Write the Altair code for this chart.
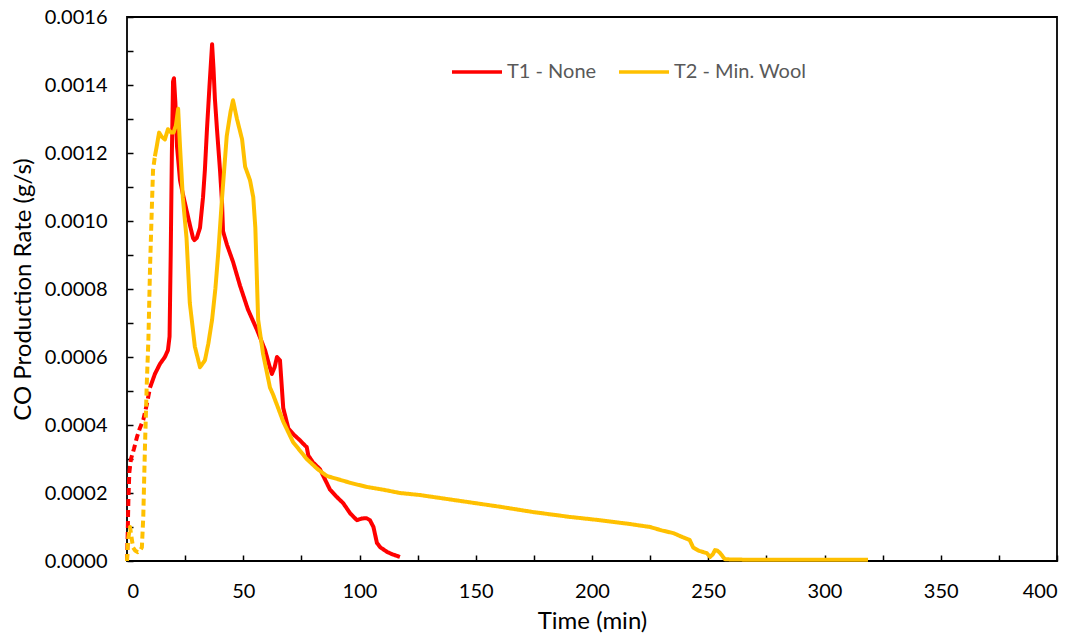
import altair as alt
import pandas as pd

# ---- data ----
t1_dash_time = [0, 0.3, 0.6, 1.0, 1.7, 3.0, 4.3, 5.5, 7.0, 8.5, 9.9]
t1_dash_rate = [0, 0.00008, 0.00018, 0.00026, 0.00030, 0.00033, 0.000365, 0.00039, 0.000415, 0.00046, 0.00051]

t1_time = [9.9, 12, 14.2, 16.3, 17.6, 18.3, 18.8, 19.3, 19.8, 20.2, 20.8, 21.5, 22.8, 24, 25, 27,
           28.4, 29, 30, 31.4, 32.7, 33.5, 34.4, 35.5, 36.6, 37.2, 37.8, 38.7, 40, 40.9, 41.3, 43,
           45.6, 48.6, 52, 55.9, 59.4, 61, 62.3, 63.5, 64.5, 65.8, 66.5, 67.2, 69.4, 72, 74.4,
           76.5, 77.3, 78, 80, 83, 87.3, 90, 93, 96, 98.9, 101, 103, 104.5, 106, 107.5, 109,
           111.8, 114, 117.4]
t1_rate = [0.00051, 0.00055, 0.00058, 0.00060, 0.00062, 0.00066, 0.00090, 0.00120, 0.00141, 0.00142,
           0.00135, 0.00122, 0.00112, 0.00108, 0.00105, 0.00099, 0.00095, 0.000944, 0.00095,
           0.00098, 0.00107, 0.00115, 0.00127, 0.00140, 0.00152, 0.00145, 0.00136, 0.00127,
           0.00115, 0.00105, 0.00097, 0.00093, 0.00088, 0.00081, 0.00074, 0.00068, 0.00062,
           0.00058, 0.00055, 0.00057, 0.00060, 0.00059, 0.00052, 0.00045, 0.00039, 0.00037,
           0.000355, 0.00034, 0.000335, 0.00031, 0.00029, 0.00027, 0.00021, 0.00019, 0.00017,
           0.00014, 0.00012, 0.000125, 0.000126, 0.00012, 0.00010, 0.000053, 0.00004, 0.000027,
           0.00002, 0.000012]

t2_dash_time = [0, 0.4, 1.3, 2.6, 3.6, 4.7, 5.6, 6.4, 7.0, 7.7, 8.5, 9.2, 9.9, 10.6, 11.2, 12.0]
t2_dash_rate = [0, 0.00006, 0.00010, 0.00004, 0.00003, 0.000026, 0.00003, 0.00004, 0.00013,
                0.00033, 0.00052, 0.00065, 0.00086, 0.00102, 0.00115, 0.00119]

t2_time = [12, 12.8, 13.8, 14.9, 16.3, 17.6, 19, 20, 21, 22, 22.8, 24, 25.6, 27, 29.2, 31.4, 33.5,
           35, 36.6, 38, 39.3, 40.9, 42.9, 44.5, 45.6, 47.3, 49.5, 50.8, 52.9, 54.3, 55.2, 56.4,
           58.5, 61.5, 62.8, 65, 67.2, 71.4, 77.3, 82, 86, 91, 96, 103, 110, 117.4, 126, 146,
           160, 174.7, 190, 203.4, 215, 225, 230, 235, 239, 242, 243.5, 246, 249.4, 250.8, 252,
           252.9, 254, 255, 257.2, 265, 280, 300, 318.7]
t2_rate = [0.00119, 0.00122, 0.00126, 0.001248, 0.00124, 0.00127, 0.00126, 0.00126, 0.00128,
           0.00133, 0.00122, 0.00107, 0.00095, 0.00076, 0.00063, 0.00057, 0.00059, 0.00064,
           0.00071, 0.00080, 0.00091, 0.00107, 0.00125, 0.00132, 0.001355, 0.00130, 0.00124,
           0.00116, 0.00112, 0.00107, 0.00098, 0.00071, 0.00061, 0.00051, 0.00049, 0.00045,
           0.00041, 0.00035, 0.00030, 0.00027, 0.00025, 0.00024, 0.00023, 0.000218, 0.00021,
           0.00020, 0.000194, 0.000174, 0.00016, 0.000144, 0.00013, 0.00012, 0.00011, 0.00010,
           0.00009, 0.000082, 0.00007, 0.000062, 0.00004, 0.00003, 0.000023, 0.000012, 0.00002,
           0.000032, 0.00003, 0.000024, 0.000005, 0.000004, 0.000004, 0.000004, 0.000004]

series_names = ["T1 - None", "T2 - Min. Wool"]
series_colors = ["#FF0000", "#FFC000"]
x_tick_values = list(range(0, 401, 25))
y_tick_values = [round(i * 0.0001, 4) for i in range(17)]

# ---- build table ----
rows = []
def add(name, part, ts, vs):
    for i, (t, v) in enumerate(zip(ts, vs)):
        rows.append({"series": name, "seg": name + part, "part": part, "t": t, "v": v, "i": i})

add(series_names[0], "dash", t1_dash_time, t1_dash_rate)
add(series_names[0], "solid", t1_time, t1_rate)
add(series_names[1], "dash", t2_dash_time, t2_dash_rate)
add(series_names[1], "solid", t2_time, t2_rate)
df = pd.DataFrame(rows)

FONT = "Lato"
TICK = 6

xscale = alt.Scale(domain=[0, 400], nice=False, zero=True)
yscale = alt.Scale(domain=[0, 0.0016], nice=False, zero=True)

lines = alt.Chart(df).mark_line(strokeWidth=4, strokeCap="butt", strokeJoin="round").encode(
    x=alt.X("t:Q", scale=xscale,
            axis=alt.Axis(title="Time (min)", values=x_tick_values, domain=False,
                          offset=-TICK, tickSize=TICK, tickWidth=1.5, tickColor="black",
                          labelExpr="datum.value % 50 === 0 ? datum.label : ''",
                          labelPadding=20, titlePadding=8, grid=False, format="d")),
    y=alt.Y("v:Q", scale=yscale,
            axis=alt.Axis(title="CO Production Rate (g/s)", values=y_tick_values, domain=False,
                          offset=-TICK, tickSize=TICK, tickWidth=1.5, tickColor="black",
                          labelExpr="round(datum.value * 10000) % 2 === 0 ? datum.label : ''",
                          labelPadding=20, titlePadding=9, grid=False, format=".4f")),
    color=alt.Color("series:N", scale=alt.Scale(domain=series_names, range=series_colors),
                    legend=alt.Legend(title=None, orient="none", legendX=323, legendY=28,
                                      direction="horizontal", symbolType="stroke",
                                      symbolSize=2500, symbolStrokeWidth=3.5,
                                      labelFontSize=20, labelColor="#595959", labelFont=FONT,
                                      labelOffset=3, columnPadding=15)),
    strokeDash=alt.StrokeDash("part:N", scale=alt.Scale(domain=["solid", "dash"],
                                                         range=[[1, 0], [7, 4]]), legend=None),
    detail="seg:N",
    order="i:Q",
)

chart = lines.properties(
    width=930, height=544,
    autosize=alt.AutoSizeParams(type="none"),
    padding={"left": 127, "top": 17, "right": 26, "bottom": 83},
    background="white",
).configure_view(stroke="black", strokeWidth=1.8).configure_axis(
    labelFont=FONT, titleFont=FONT,
    labelFontSize=20, titleFontSize=24, labelColor="black", titleColor="black",
    titleFontWeight="normal",
)

chart.save("out.html", embed_options={"renderer": "svg", "actions": False})
